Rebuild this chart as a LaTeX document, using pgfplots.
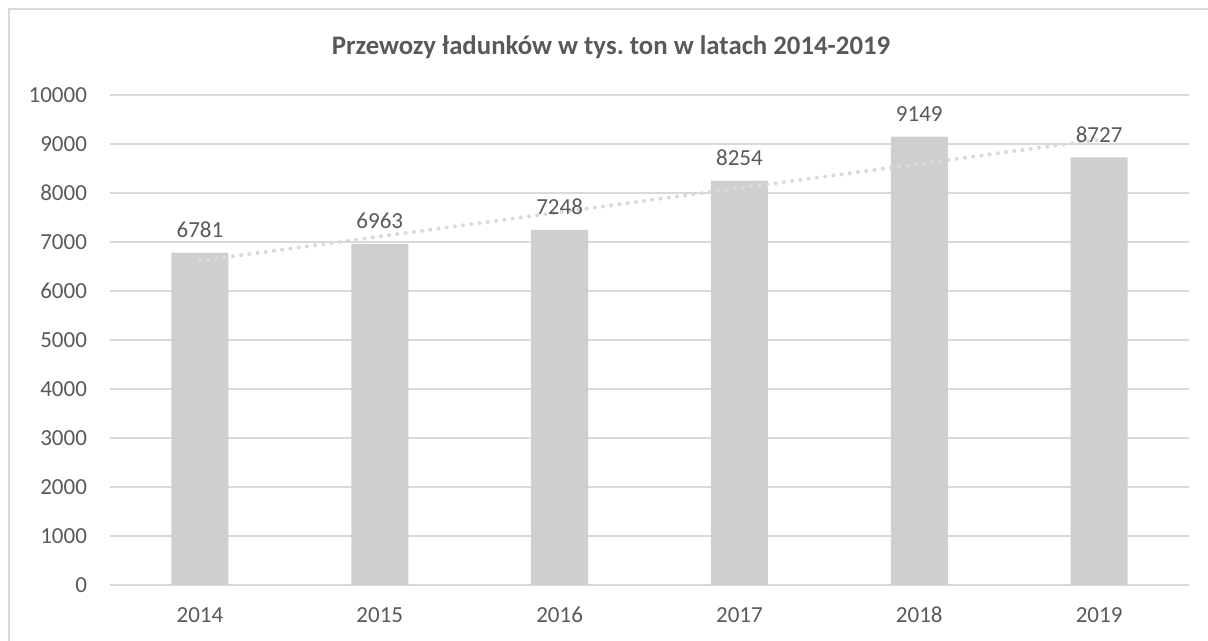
\documentclass[border=0pt]{standalone}
\usepackage{pgfplots}
\pgfplotsset{compat=1.18}
\usepackage{fontspec}
\setmainfont{Carlito}
\frenchspacing
\definecolor{txt}{HTML}{595959}
\definecolor{gridc}{HTML}{D9D9D9}
\definecolor{barc}{HTML}{D0CECE}
\definecolor{trendc}{HTML}{D9D9D9}
\begin{document}
\begin{tikzpicture}
\path[use as bounding box] (-55pt,-28pt) rectangle (549pt,292.5pt);
\draw[draw=gridc, line width=0.65pt] (-50.5pt,-40pt) -- (-50.5pt,288pt) -- (560pt,288pt);
\begin{axis}[
  at={(0pt,0pt)}, anchor=south west,
  scale only axis, width=539.5pt, height=245pt,
  xmin=-0.5, xmax=5.5, ymin=0, ymax=10000,
  xtick={0,1,2,3,4,5},
  xticklabels={2014,2015,2016,2017,2018,2019},
  ytick={0,1000,...,10000},
  major tick length=0pt,
  axis line style={draw=none},
  ymajorgrids, xmajorgrids=false,
  y grid style={draw=gridc, line width=0.65pt},
  tick label style={font=\fontsize{11.5}{14}\selectfont, text=txt},
  /pgf/number format/assume math mode=true,
  yticklabel style={xshift=-8pt},
  xticklabel style={yshift=-7pt, text height=8pt, text depth=0pt},
  scaled y ticks=false,
  yticklabel={\pgfmathprintnumber[fixed,1000 sep={}]{\tick}},
  clip=false,
]
\addplot[ybar, bar width=28.5pt, fill=barc, draw=none,
  nodes near coords,
  every node near coord/.append style={font=\fontsize{11.5}{14}\selectfont, text=txt, yshift=4pt, text height=8pt, text depth=0pt},
  nodes near coords style={/pgf/number format/.cd,fixed,1000 sep={},assume math mode=true}]
  coordinates {(0,6781) (1,6963) (2,7248) (3,8254) (4,9149) (5,8727)};
\addplot[trendc, line width=2pt, line cap=round, dash pattern=on 0pt off 4.15pt, forget plot]
  coordinates {(0,6618.4) (5,9089.0)};
\end{axis}
\node[text=txt, font=\fontsize{13.4}{16}\selectfont\bfseries] at (250.5pt,269pt) {Przewozy ładunków w tys. ton w latach 2014-2019};
\end{tikzpicture}
\end{document}
